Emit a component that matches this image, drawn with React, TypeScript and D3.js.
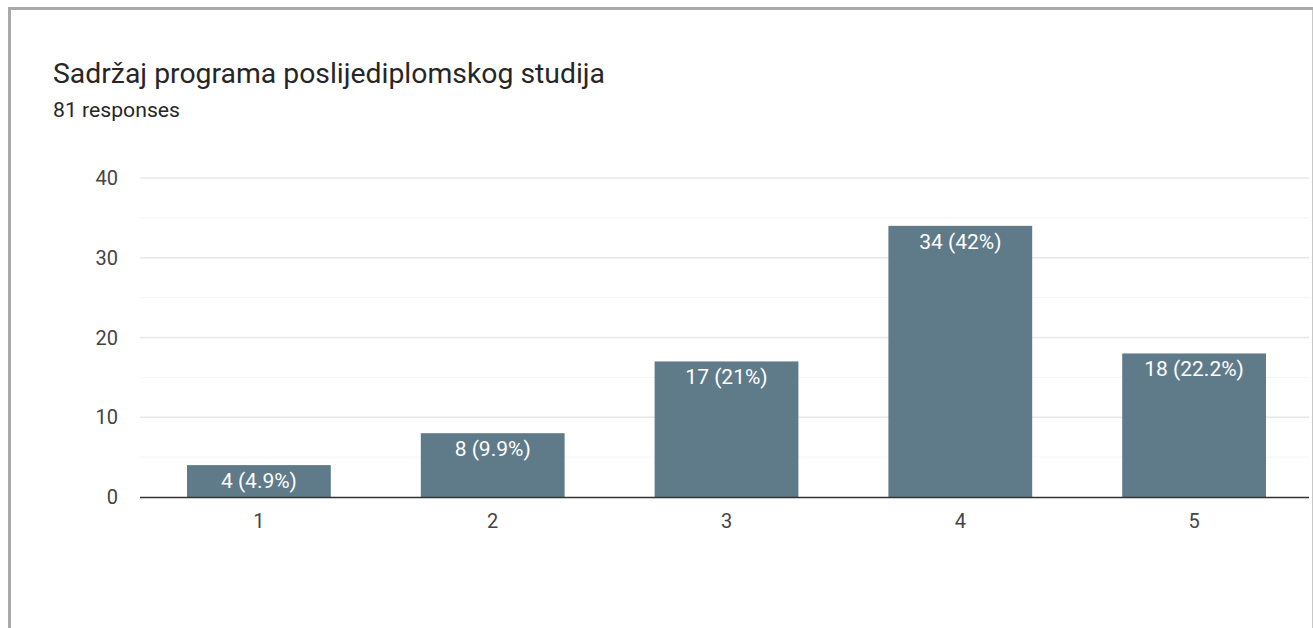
import React from "react";
import * as d3 from "d3";

const categories = ["1", "2", "3", "4", "5"];
const counts = [4, 8, 17, 34, 18];
const labels = ["4 (4.9%)", "8 (9.9%)", "17 (21%)", "34 (42%)", "18 (22.2%)"];
const yTicks = [0, 10, 20, 30, 40];
const yMinor = [5, 15, 25, 35];
const title = "Sadržaj programa poslijediplomskog studija";
const subtitle = "81 responses";

export default function App() {
  const W = 1313;
  const H = 628;
  const left = 142;
  const right = 1311;
  const x = d3
    .scaleBand<string>()
    .domain(categories)
    .range([left, right])
    .paddingInner(0.385)
    .paddingOuter(0.1925);
  const y = d3.scaleLinear().domain([0, 40]).range([497, 178]);
  const font = "Roboto, Arial, sans-serif";

  return (
    <svg
      width={W}
      height={H}
      style={{ position: "absolute", left: 0, top: 0, background: "#fff" }}
      fontFamily={font}
    >
      <rect x={0} y={0} width={W} height={H} fill="#fff" />
      {/* card borders */}
      <line x1={9.5} x2={9.5} y1={7} y2={H} stroke="#a9a9a9" strokeWidth={3} />
      <line x1={8} x2={W} y1={8.5} y2={8.5} stroke="#a9a9a9" strokeWidth={3} />
      <line x1={1312.5} x2={1312.5} y1={10} y2={H} stroke="#c8c8c8" strokeWidth={1} />

      <text x={53} y={83} fontSize={27} fill="#262626" textLength={552} lengthAdjust="spacingAndGlyphs">
        {title}
      </text>
      <text x={53} y={117} fontSize={20} fill="#262626" textLength={127} lengthAdjust="spacingAndGlyphs">
        {subtitle}
      </text>

      {yMinor.map((t) => (
        <line key={"m" + t} x1={140} x2={1309} y1={y(t)} y2={y(t)} stroke="#f4f4f4" strokeWidth={1} />
      ))}
      {yTicks.filter((t) => t > 0).map((t) => (
        <line key={"g" + t} x1={140} x2={1309} y1={y(t)} y2={y(t)} stroke="#e8e8e8" strokeWidth={1.5} />
      ))}
      {yTicks.map((t) => (
        <text
          key={"t" + t}
          x={118}
          y={y(t)}
          dy="0.35em"
          textAnchor="end"
          fontSize={20}
          fill="#444"
        >
          {t}
        </text>
      ))}

      {categories.map((c, i) => (
        <g key={c}>
          <rect
            x={x(c)!}
            y={y(counts[i])}
            width={x.bandwidth()}
            height={y(0) - y(counts[i])}
            fill="#5f7b89"
          />
          <text
            x={x(c)! + x.bandwidth() / 2}
            y={y(counts[i]) + 23}
            textAnchor="middle"
            fontSize={21}
            fill="#fff"
          >
            {labels[i]}
          </text>
          <text
            x={x(c)! + x.bandwidth() / 2}
            y={528}
            textAnchor="middle"
            fontSize={20}
            fill="#444"
          >
            {c}
          </text>
        </g>
      ))}
      <line x1={140} x2={1309} y1={497.5} y2={497.5} stroke="#333" strokeWidth={1.5} />
    </svg>
  );
}
